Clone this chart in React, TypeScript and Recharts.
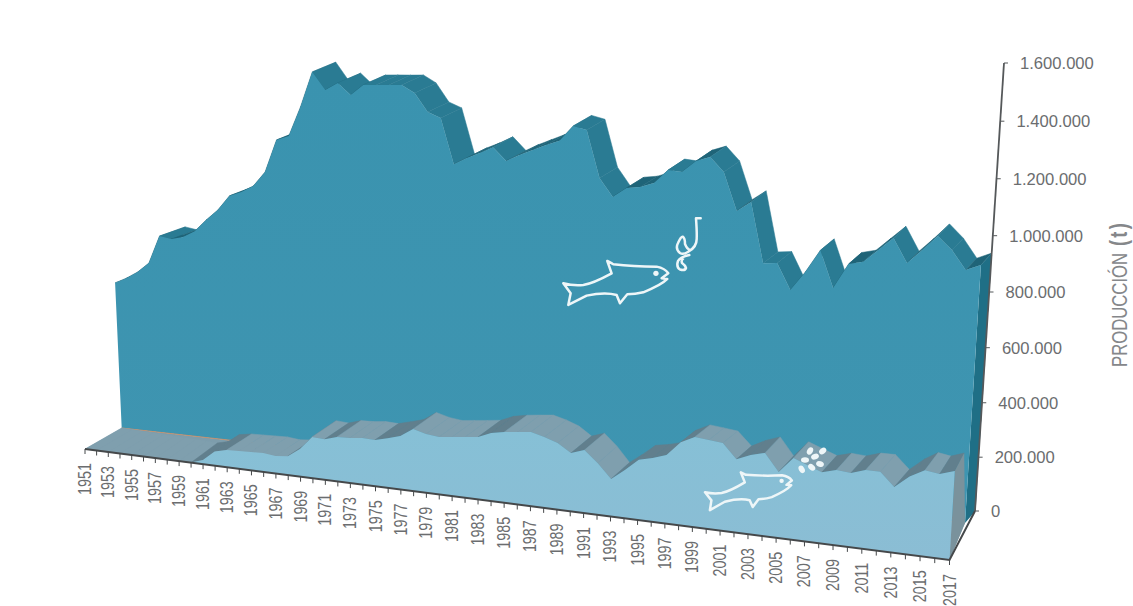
import { Area, AreaChart, XAxis, YAxis } from 'recharts'

const years = Array.from({ length: 67 }, (_, i) => 1951 + i)

// production in tonnes, one value per year from 1951 to 2017
const capture = [
  585000, 608000, 637000, 677000, 789000, 781000, 793000, 820000, 868000, 911000,
  971000, 990000, 1017000, 1076000, 1205000, 1224000, 1341000, 1481000, 1413000, 1443000,
  1399000, 1441000, 1444000, 1446000, 1449000, 1421000, 1350000, 1330000, 1156000, 1183000,
  1205000, 1231000, 1182000, 1208000, 1230000, 1252000, 1271000, 1330000, 1318000, 1141000,
  1073000, 1110000, 1117000, 1135000, 1187000, 1183000, 1227000, 1245000, 1193000, 1053000,
  1089000, 868000, 873000, 778000, 847000, 931000, 798000, 889000, 901000, 948000,
  995000, 909000, 959000, 1014000, 967000, 899000, 921000,
]
const aquaculture = [
  0, 0, 0, 0, 0, 0, 0, 0, 0, 0,
  17000, 56000, 68000, 70000, 72000, 74000, 69000, 74000, 108000, 161000,
  158000, 173000, 175000, 181000, 179000, 192000, 206000, 239000, 226000, 220000,
  226000, 232000, 238000, 259000, 269000, 275000, 281000, 268000, 251000, 219000,
  236000, 193000, 140000, 180000, 224000, 237000, 254000, 307000, 333000, 328000,
  322000, 269000, 290000, 304000, 240000, 297000, 277000, 258000, 272000, 268000,
  284000, 284000, 236000, 280000, 308000, 301000, 318000,
]
const productionTicks = [0, 200000, 400000, 600000, 800000, 1000000, 1200000, 1400000, 1600000]

const chartData = years.map((year, i) => ({ year, capture: capture[i], aquaculture: aquaculture[i] }))

const WIDTH = 1133
const HEIGHT = 606
const PLOT_LEFT = 85
const PLOT_RIGHT = 949.5
const PLOT_TOP = 63
const PLOT_BOTTOM = 511

type Pt = { x: number; y: number }
type Offset = (s: number) => Pt

// piecewise linear lookup for the offsets that change along the floor
const lerpTable = (table: number[][], s: number) => {
  for (let i = 1; i < table.length; i++) {
    if (s <= table[i][0]) {
      const [a, va] = table[i - 1]
      const [b, vb] = table[i]
      return va + ((vb - va) * (s - a)) / (b - a)
    }
  }
  return table[table.length - 1][1]
}

const noDepth: Offset = () => ({ x: 0, y: 0 })
const darkFront: Offset = s => ({ x: 36.7 - 21.2 * s, y: -21 - 16 * s })
const darkBack: Offset = s => ({ x: 36.7 - 21.2 * s + 26 - 15.5 * s, y: -21 - 16 * s - 9 - 3 * s })
const lightBack: Offset = s => ({
  x: lerpTable([[0, 36.7], [0.14, 25], [0.53, 22], [0.68, 15], [0.95, 15], [1, 9.3]], s),
  y: lerpTable([[0, -21], [0.12, -20], [0.16, -16], [0.6, -17], [0.68, -12], [0.74, -12], [0.78, -16], [1, -18]], s),
})

// perspective projection of a flat chart coordinate onto a plane of the 3D box
const project = (px: number, py: number, depth: Offset): Pt => {
  const t = (px - PLOT_LEFT) / (PLOT_RIGHT - PLOT_LEFT)
  const w = 1 + 0.129 * (1 - t)
  const s = t / w
  const h = (PLOT_BOTTOM - py) / w
  const off = depth(s)
  const baseX = PLOT_LEFT + (PLOT_RIGHT - PLOT_LEFT) * s + off.x
  const baseY = 449 + 111 * s + off.y
  return { x: baseX + ((baseX - 478) * h) / 7874, y: baseY - h }
}

const toPath = (pts: Pt[]) => pts.map(p => `${p.x.toFixed(1)},${p.y.toFixed(1)}`).join(' ')

function Solid({ points, front, back, colors, capEdge }: {
  points: Pt[]
  front: Offset
  back: Offset
  colors: { face: string; down: string; up: string; side: string }
  capEdge: Offset
}) {
  const frontTop = points.map(p => project(p.x, p.y, front))
  const backTop = points.map(p => project(p.x, p.y, back))
  const last = points[points.length - 1]
  const first = points[0]
  const outline = [
    project(first.x, PLOT_BOTTOM, front),
    ...frontTop,
    project(last.x, PLOT_BOTTOM, front),
  ]
  return (
    <g>
      {points.slice(1).map((_, i) => {
        const quad = [frontTop[i], frontTop[i + 1], backTop[i + 1], backTop[i]]
        const rising = frontTop[i + 1].y < frontTop[i].y - 0.5
        return (
          <polygon
            key={i}
            points={toPath(quad)}
            fill={rising ? colors.up : colors.down}
            stroke={rising ? colors.up : colors.down}
            strokeWidth={0.5}
          />
        )
      })}
      <polygon
        points={toPath([
          project(last.x, PLOT_BOTTOM, front),
          frontTop[frontTop.length - 1],
          backTop[backTop.length - 1],
          project(last.x, PLOT_BOTTOM, capEdge),
        ])}
        fill={colors.side}
      />
      <polygon points={toPath(outline)} fill={colors.face} />
    </g>
  )
}

const renderCapture = (props: any) => {
  if (props.index !== 0) return <g key={props.index} />
  const xs = props.points as Pt[]
  const a = xs[0].x
  const b = xs[xs.length - 1].x
  return (
    <g key="capture-solid">
      <Solid
        points={xs}
        front={darkFront}
        back={darkBack}
        capEdge={darkBack}
        colors={{ face: 'url(#captureFace)', down: '#2a7b93', up: '#1f6478', side: '#1f6f86' }}
      />
      {/* floor between the two series */}
      <polygon
        points={toPath([
          project(a, PLOT_BOTTOM, noDepth),
          project(b, PLOT_BOTTOM, noDepth),
          project(b, PLOT_BOTTOM, darkFront),
          project(a, PLOT_BOTTOM, darkFront),
        ])}
        fill="#7d9dac"
      />
      <line
        x1={project(a, PLOT_BOTTOM, darkFront).x}
        y1={project(a, PLOT_BOTTOM, darkFront).y}
        x2={project(b, PLOT_BOTTOM, darkFront).x}
        y2={project(b, PLOT_BOTTOM, darkFront).y}
        stroke="#c2906f"
        strokeWidth={1}
      />
    </g>
  )
}

const renderAquaculture = (props: any) => {
  if (props.index !== 0) return <g key={props.index} />
  return (
    <g key="aquaculture-solid">
      <Solid
        points={props.points}
        front={noDepth}
        back={lightBack}
        capEdge={darkFront}
        colors={{ face: 'url(#aquaFace)', down: '#7f9fae', up: '#617f8d', side: '#7a929c' }}
      />
    </g>
  )
}

const YearTick = (props: any) => {
  const { payload, index } = props
  const coord = payload.coordinate
  const p = project(coord, PLOT_BOTTOM, noDepth)
  const start = project(PLOT_LEFT, PLOT_BOTTOM, noDepth)
  const end = project(PLOT_RIGHT, PLOT_BOTTOM, noDepth)
  return (
    <g>
      {index === 0 && (
        <polyline
          points={toPath([start, end, { x: 975, y: PLOT_BOTTOM }])}
          fill="none"
          stroke="#45484a"
          strokeWidth={2}
        />
      )}
      <line x1={p.x} y1={p.y} x2={p.x} y2={p.y + 5} stroke="#45484a" strokeWidth={1} />
      {index % 2 === 0 && (
        <text
          transform={`translate(${p.x + 6},${p.y + 14}) rotate(-90) scale(0.82,1)`}
          textAnchor="end"
          fontFamily="Liberation Sans"
          fontSize={17.5}
          fill="#6b6d6f"
        >
          {payload.value}
        </text>
      )}
    </g>
  )
}

const ProductionTick = (props: any) => {
  const { y, payload } = props
  const f = (PLOT_BOTTOM - y) / (PLOT_BOTTOM - PLOT_TOP)
  const yy = y + 20 * f * (1 - f)
  const ax = 975 + 29 * f
  return (
    <g>
      {payload.value === 0 && (
        <line x1={975} y1={PLOT_BOTTOM} x2={1004} y2={PLOT_TOP} stroke="#55585a" strokeWidth={1.8} />
      )}
      <line x1={ax} y1={yy} x2={ax + 4} y2={yy} stroke="#55585a" strokeWidth={1} />
      <text
        x={ax + 16}
        y={yy + 6}
        textAnchor="start"
        fontFamily="Liberation Sans"
        fontSize={16.6}
        fill="#6b6d6f"
      >
        {payload.value.toLocaleString('de-DE')}
      </text>
    </g>
  )
}

const FISH =
  'M0 0 Q30 8 60 5 Q90 0 145 -30 L132 -67 Q145 -60 150 -57 Q210 -50 280 -50 Q305 -45 315 -30 L295 -15 L312 -13 Q295 5 240 27 Q215 33 192 33 L170 60 L160 35 Q125 25 70 37 L15 65 L22 30 Z'

function Fish({ transform, weight }: { transform: string; weight: number }) {
  return (
    <g transform={transform}>
      <path d={FISH} fill="none" stroke="#eef6f8" strokeWidth={weight} strokeLinejoin="round" />
      <circle cx={278} cy={-30} r={8} fill="#eef6f8" />
    </g>
  )
}

const pellets = [
  [810, 451], [822.7, 451], [815, 456.7], [805, 460], [820, 464], [811.7, 467.3], [801.7, 469.3],
]

export default function App() {
  return (
    <div style={{ position: 'absolute', left: 0, top: 0, width: WIDTH, height: HEIGHT, background: '#fff' }}>
      <AreaChart
        width={WIDTH}
        height={HEIGHT}
        data={chartData}
        margin={{ top: PLOT_TOP, right: 83.5, bottom: 35, left: PLOT_LEFT }}
      >
        <defs>
          <linearGradient id="captureFace" x1="0" y1="0" x2="0" y2="1">
            <stop offset="0%" stopColor="#3a93af" />
            <stop offset="100%" stopColor="#3f95b1" />
          </linearGradient>
          <linearGradient id="aquaFace" x1="0" y1="0" x2="0" y2="1">
            <stop offset="0%" stopColor="#86c0d6" />
            <stop offset="100%" stopColor="#8bbdd4" />
          </linearGradient>
        </defs>
        <XAxis
          dataKey="year"
          interval={0}
          height={60}
          axisLine={false}
          tickLine={false}
          tick={YearTick}
        />
        <YAxis
          orientation="right"
          width={100}
          domain={[0, 1600000]}
          ticks={productionTicks}
          axisLine={false}
          tickLine={false}
          tick={ProductionTick}
        />
        <Area
          dataKey="capture"
          stroke="none"
          fill="none"
          dot={renderCapture}
          activeDot={false}
          isAnimationActive={false}
        />
        <Area
          dataKey="aquaculture"
          stroke="none"
          fill="none"
          dot={renderAquaculture}
          activeDot={false}
          isAnimationActive={false}
        />
      </AreaChart>
      <svg
        width={WIDTH}
        height={HEIGHT}
        style={{ position: 'absolute', left: 0, top: 0, pointerEvents: 'none' }}
      >
        <text
          transform="translate(1127,367) rotate(-90) scale(0.76,1)"
          fontFamily="Liberation Sans"
          fontSize={22}
          fill="#85878a"
        >
          PRODUCCIÓN
          <tspan dx={9} fontWeight="bold" fontSize={24} letterSpacing={3}>(t)</tspan>
        </text>
        <Fish transform="translate(563.3,283.3) scale(0.3333)" weight={7.5} />
        <Fish transform="translate(705,492.3) rotate(-2.3) scale(0.277)" weight={9} />
        {/* hook and worm */}
        <path
          d="M700.7 218.3 L696 218.3 Q697 232 696.7 238.3 Q697 247 688.3 251.7 Q683 255 680 253 Q675 249 678 243 Q681 236 682.7 236.7 Q685 238 685 244 Q687 249 690 250 M689.3 255 Q680 257 678 261 Q676 267 680 269.5 Q685 271 686 268 Q685 265 682 263 Q681 260 683 259"
          fill="none"
          stroke="#eef6f8"
          strokeWidth={2.5}
          strokeLinecap="round"
          strokeLinejoin="round"
        />
        {pellets.map(([cx, cy], i) => (
          <ellipse key={i} cx={cx} cy={cy} rx={2.8} ry={4} fill="#eef6f8" transform={`rotate(${30 + i * 20} ${cx} ${cy})`} />
        ))}
      </svg>
    </div>
  )
}
